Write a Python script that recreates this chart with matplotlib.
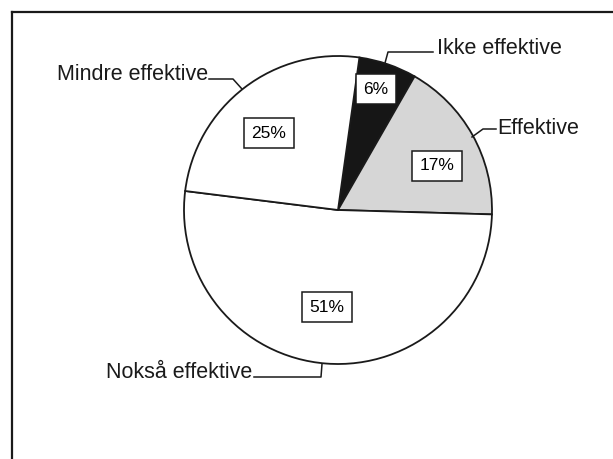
import matplotlib.pyplot as plt
from matplotlib.lines import Line2D

plt.rcParams['font.family'] = ['Liberation Sans', 'DejaVu Sans']

# data
labels = ['Ikke effektive', 'Effektive', 'Nokså effektive', 'Mindre effektive']
values = [6, 17, 51, 25]
colors = ['#161616', '#d6d6d6', 'white', 'white']

# pixel scale: pie centre at (338, 210), radius 154 px
R = 154.0
CX, CY = 338.0, 210.0


def px(x, y):
    return (x - CX) / R, (CY - y) / R


fig = plt.figure(figsize=(6.13, 4.59), dpi=100)
ax = fig.add_axes([0, 0, 1, 1])
ax.axis('off')

wedges, _ = ax.pie(values, colors=colors, startangle=82, counterclock=False,
                   radius=1.0, center=(0, 0), frame=False,
                   wedgeprops=dict(edgecolor='#1a1a1a', linewidth=1.3))
ax.set_xlim(-CX / R, (613 - CX) / R)
ax.set_ylim(-(459 - CY) / R, CY / R)
ax.set_aspect('auto')

# percentage boxes
pct_pos = [px(376, 89), px(437, 166), px(327, 307), px(269, 133)]
for v, (x, y) in zip(values, pct_pos):
    ax.text(x, y, f'{v}%', ha='center', va='center', fontsize=12.5,
            bbox=dict(boxstyle='square,pad=0.42', fc='white', ec='#1a1a1a', lw=1.1))

# outside labels with leader lines
label_pos = [(px(437, 49), 'left'), (px(497, 128), 'left'),
             (px(252, 372), 'right'), (px(208, 74), 'right')]
leaders = [
    [(385, 63), (388, 52), (433, 52)],
    [(472, 137), (483, 129), (496, 129)],
    [(322, 364), (321, 377), (254, 377)],
    [(242, 89), (233, 79), (209, 79)],
]
for lab, ((x, y), ha), pts in zip(labels, label_pos, leaders):
    ax.text(x, y, lab, ha=ha, va='center', fontsize=15.5, color='#1a1a1a')
    xs, ys = zip(*[px(a, b) for a, b in pts])
    ax.plot(xs, ys, color='#1a1a1a', lw=1.1)

# frame (top and left edges visible)
fig.add_artist(Line2D([11.5 / 613, 1], [1 - 11.5 / 459, 1 - 11.5 / 459],
                      transform=fig.transFigure, color='#1a1a1a', lw=1.6))
fig.add_artist(Line2D([11.5 / 613, 11.5 / 613], [0, 1 - 11.5 / 459],
                      transform=fig.transFigure, color='#1a1a1a', lw=1.6))

fig.savefig('out.png', dpi=100, facecolor='white')
